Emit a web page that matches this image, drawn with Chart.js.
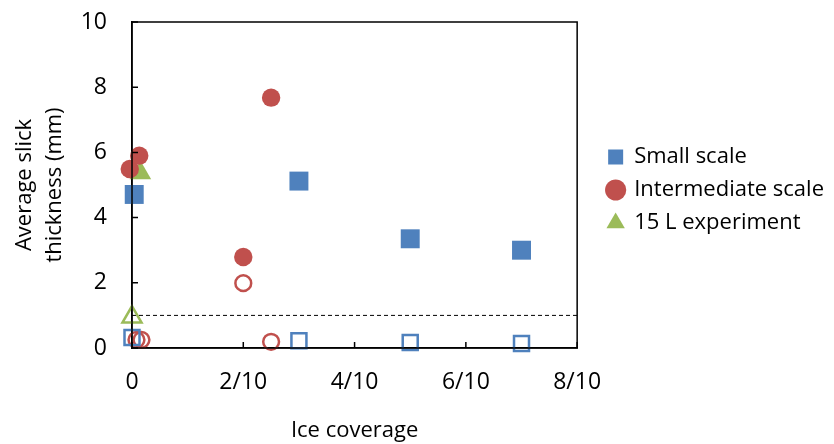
<!DOCTYPE html>
<html lang="en">
<head>
    <meta charset="UTF-8">
    <title>Average slick thickness vs ice coverage</title>
    <script src="https://cdn.jsdelivr.net/npm/chart.js"></script>
    <style>
        html, body { margin: 0; padding: 0; background: #fff; }
        #wrap { width: 834px; height: 444px; }
    </style>
</head>
<body>
    <div id="wrap"><canvas id="sliceChart"></canvas></div>

    <script>
        // values
        const xTickLabels = ['0', '2/10', '4/10', '6/10', '8/10'];

        const smallX = [0.004, 0.3, 0.5, 0.7];
        const smallThick = [4.71, 5.12, 3.35, 3.0];
        const smallOpenX = [0.0, 0.3, 0.5, 0.7];
        const smallThin = [0.32, 0.22, 0.17, 0.14];

        const interX = [-0.004, 0.013, 0.2, 0.25];
        const interThick = [5.49, 5.9, 2.79, 7.68];
        const interOpenX = [0.008, 0.017, 0.2, 0.25];
        const interThin = [0.25, 0.25, 1.99, 0.19];

        const expX = [0.015];
        const expThick = [5.37];
        const expOpenX = [0.0];
        const expThin = [0.95];

        const thresholdX = [0, 0.8];
        const thresholdY = [1, 1];

        const blue = '#4F81BD';
        const red = '#C0504D';
        const green = '#9BBB59';
        const fontName = '"Open Sans", sans-serif';

        const pts = (xs, ys) => xs.map((x, i) => ({ x: x, y: ys[i] }));

        // invisible outer ticks just push the labels away from the axis
        const hiddenTicks = len => ({
            display: true,
            drawOnChartArea: false,
            drawTicks: true,
            tickLength: len,
            tickColor: 'rgba(0,0,0,0)'
        });

        // inside tick marks and the box round the plot area
        const frame = {
            id: 'frame',
            afterLayout(chart) {
                // legend: wider gap from the plot, centred a bit lower
                const lg = chart.legend;
                const a = chart.chartArea;
                if (lg) {
                    lg.left += 20;
                    lg.right += 20;
                    lg.top = a.top + 10;
                    lg.bottom = a.bottom;
                    lg.height = lg.bottom - lg.top;
                }
            },
            afterDraw(chart) {
                const { ctx, chartArea: a, scales } = chart;
                ctx.save();
                ctx.strokeStyle = '#000';
                ctx.lineWidth = 1.5;
                ctx.strokeRect(a.left, a.top, a.right - a.left, a.bottom - a.top);
                ctx.beginPath();
                scales.x.ticks.forEach(t => {
                    const px = scales.x.getPixelForValue(t.value);
                    ctx.moveTo(px, a.bottom);
                    ctx.lineTo(px, a.bottom - 6);
                });
                scales.y.ticks.forEach(t => {
                    const py = scales.y.getPixelForValue(t.value);
                    ctx.moveTo(a.left, py);
                    ctx.lineTo(a.left + 6, py);
                });
                ctx.stroke();
                ctx.restore();
            }
        };

        const ctx = document.getElementById('sliceChart').getContext('2d');
        const sliceChart = new Chart(ctx, {
            type: 'scatter',
            data: {
                datasets: [
                    {
                        label: 'Small scale',
                        data: pts(smallX, smallThick),
                        pointStyle: 'rect',
                        pointRadius: 13.4,
                        backgroundColor: blue,
                        borderColor: blue,
                        borderWidth: 0,
                        clip: false
                    },
                    {
                        label: 'Intermediate scale',
                        data: pts(interX, interThick),
                        pointStyle: 'circle',
                        pointRadius: 9.2,
                        backgroundColor: red,
                        borderColor: red,
                        borderWidth: 0,
                        clip: false
                    },
                    {
                        label: '15 L experiment',
                        data: pts(expX, expThick),
                        pointStyle: 'triangle',
                        pointRadius: 12.5,
                        backgroundColor: green,
                        borderColor: green,
                        borderWidth: 0,
                        clip: false
                    },
                    {
                        label: 'Small scale (thin)',
                        data: pts(smallOpenX, smallThin),
                        pointStyle: 'rect',
                        pointRadius: 10.6,
                        backgroundColor: 'rgba(255,255,255,0)',
                        borderColor: blue,
                        borderWidth: 2.5,
                        clip: false
                    },
                    {
                        label: 'Intermediate scale (thin)',
                        data: pts(interOpenX, interThin),
                        pointStyle: 'circle',
                        pointRadius: 7.9,
                        backgroundColor: 'rgba(255,255,255,0)',
                        borderColor: red,
                        borderWidth: 2.5,
                        clip: false
                    },
                    {
                        label: '15 L experiment (thin)',
                        data: pts(expOpenX, expThin),
                        pointStyle: 'triangle',
                        pointRadius: 11,
                        backgroundColor: 'rgba(255,255,255,0)',
                        borderColor: green,
                        borderWidth: 2.5,
                        clip: false
                    },
                    {
                        type: 'line',
                        label: 'threshold',
                        data: pts(thresholdX, thresholdY),
                        borderColor: '#000',
                        borderWidth: 1,
                        borderDash: [4, 3],
                        pointRadius: 0,
                        fill: false
                    }
                ]
            },
            options: {
                responsive: true,
                maintainAspectRatio: false,
                animation: false,
                layout: {
                    autoPadding: false,
                    padding: { left: 0, top: 22, right: 20, bottom: 0 }
                },
                scales: {
                    x: {
                        type: 'linear',
                        min: 0,
                        max: 0.8,
                        grid: hiddenTicks(19),
                        border: { display: true, color: '#000', width: 1.5 },
                        ticks: {
                            stepSize: 0.2,
                            padding: 2,
                            color: '#000',
                            font: { family: fontName, size: 23 },
                            callback: (v, i) => xTickLabels[i]
                        },
                        title: {
                            display: true,
                            text: 'Ice coverage',
                            color: '#000',
                            font: { family: fontName, size: 22, lineHeight: 1.2 },
                            padding: 0
                        },
                        afterFit(scale) { scale.height = 96; }
                    },
                    y: {
                        min: 0,
                        max: 10,
                        grid: hiddenTicks(23),
                        border: { display: true, color: '#000', width: 1.5 },
                        ticks: {
                            stepSize: 2,
                            padding: 2,
                            color: '#000',
                            font: { family: fontName, size: 23 }
                        },
                        title: {
                            display: true,
                            text: ['Average slick', 'thickness (mm)'],
                            color: '#000',
                            font: { family: fontName, size: 22, lineHeight: 30 / 22 },
                            padding: { top: 10, bottom: 0 }
                        },
                        afterFit(scale) { scale.width = 132; }
                    }
                },
                plugins: {
                    legend: {
                        position: 'right',
                        maxWidth: 320,
                        labels: {
                            usePointStyle: true,
                            boxWidth: 15,
                            boxHeight: 15,
                            padding: 11,
                            color: '#000',
                            font: { family: fontName, size: 22 },
                            filter: item => item.datasetIndex < 3
                        }
                    },
                    tooltip: { enabled: false }
                }
            },
            plugins: [frame]
        });
    </script>
</body>
</html>
